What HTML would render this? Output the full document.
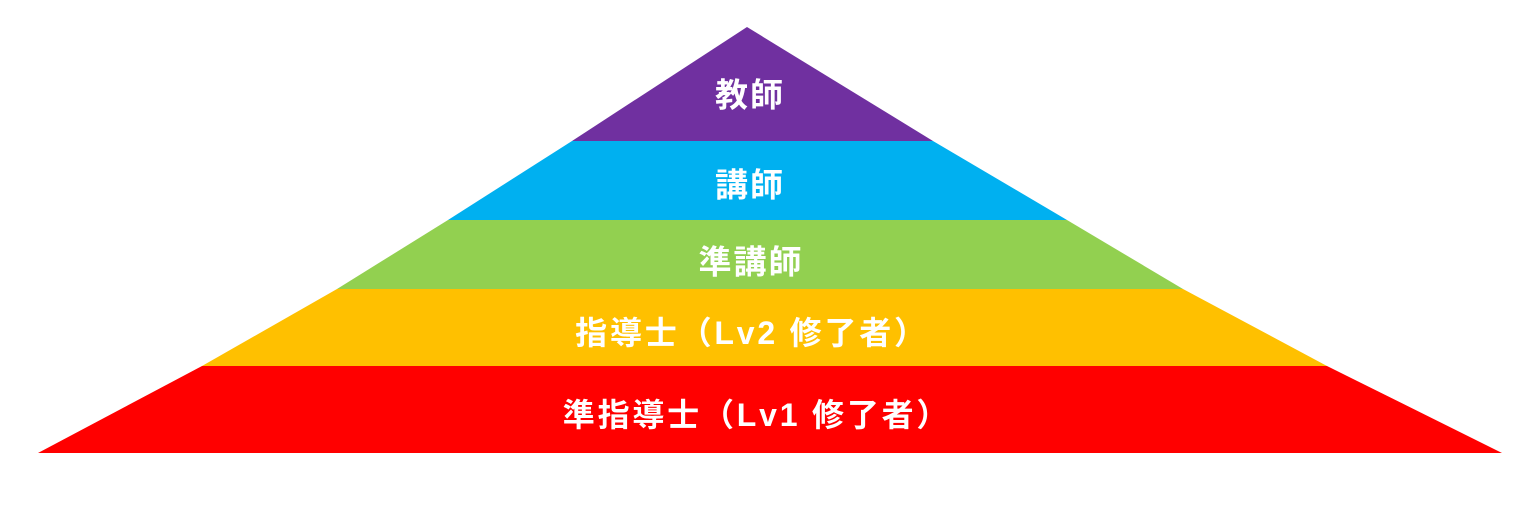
<!DOCTYPE html>
<html><head><meta charset="utf-8"><style>
html,body{margin:0;padding:0;background:#fff;}
svg{display:block;}
text{font-family:"Liberation Sans","Noto Sans CJK JP",sans-serif;font-weight:bold;fill:#fff;text-anchor:middle;dominant-baseline:central;}
</style></head><body>
<svg width="1536" height="508" viewBox="0 0 1536 508" xmlns="http://www.w3.org/2000/svg">
<polygon points="747,27 933,141 572,141" fill="#7030a0"/>
<polygon points="572,141 933,141 1067,220 448,220" fill="#00b0f0"/>
<polygon points="448,220 1067,220 1183,289 337,289" fill="#92d050"/>
<polygon points="337,289 1183,289 1327,366 202,366" fill="#ffc000"/>
<polygon points="202,366 1327,366 1502,453 38,453" fill="#ff0000"/>
<text x="750" y="95" font-size="33" letter-spacing="2">教師</text>
<text x="750" y="185" font-size="33" letter-spacing="2">講師</text>
<text x="751" y="262" font-size="33" letter-spacing="2">準講師</text>
<text x="752" y="333" font-size="32" letter-spacing="2.8">指導士（Lv2 修了者）</text>
<text x="757" y="415" font-size="32" letter-spacing="2.8">準指導士（Lv1 修了者）</text>
</svg>
</body></html>
